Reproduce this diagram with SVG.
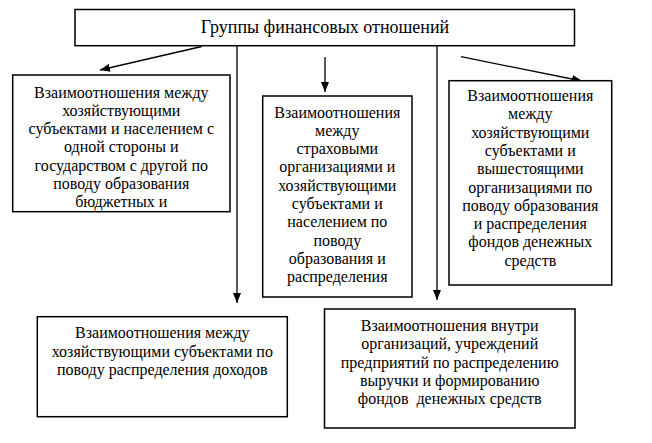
<svg xmlns="http://www.w3.org/2000/svg" width="652" height="443" viewBox="0 0 652 443" font-family="Liberation Serif, Times New Roman, serif">
<style>
.box{fill:#fff;stroke:#000;stroke-width:1.5}
text{font-size:16px;fill:#000;text-anchor:middle}
.title{font-size:18px}
.ln{stroke:#000;stroke-width:1.3;fill:none}
</style>
<defs>
<marker id="ah" viewBox="0 0 10 8" refX="10" refY="4" markerWidth="10" markerHeight="8" markerUnits="userSpaceOnUse" orient="auto">
<path d="M0,0 L10,4 L0,8 Z" fill="#000"/>
</marker>
</defs>
<rect width="652" height="443" fill="#fff"/>
<g id="connectors">
<line class="ln" x1="201.7" y1="46.5" x2="100" y2="70" marker-end="url(#ah)"/>
<line class="ln" x1="325" y1="57" x2="325" y2="92" marker-end="url(#ah)"/>
<line class="ln" x1="461" y1="56.7" x2="582" y2="81" marker-end="url(#ah)"/>
<line class="ln" x1="237" y1="45.7" x2="237" y2="303" marker-end="url(#ah)"/>
<line class="ln" x1="437" y1="45.7" x2="437" y2="300" marker-end="url(#ah)"/>
</g>
<g id="root" font-family="Liberation Serif, serif">
<rect class="box" x="75" y="9.5" width="499.5" height="36.2"/>
<text class="title" x="325" y="33">Группы финансовых отношений</text>
</g>
<g id="n1" font-family="Liberation Serif, serif">
<rect class="box" x="12.7" y="75" width="217.3" height="136.7"/>
<text x="121.3" y="97.5">Взаимоотношения между</text>
<text x="121.3" y="115.8">хозяйствующими</text>
<text x="121.3" y="134.1">субъектами и населением с</text>
<text x="121.3" y="152.4">одной стороны и</text>
<text x="121.3" y="170.7">государством с другой по</text>
<text x="121.3" y="189">поводу образования</text>
<text x="121.3" y="207.3">бюджетных и</text>
</g>
<g id="n2" font-family="Liberation Serif, serif">
<rect class="box" x="262.7" y="96" width="149.3" height="201"/>
<text x="337.3" y="117.5">Взаимоотношения</text>
<text x="337.3" y="135.8">между</text>
<text x="337.3" y="154.1">страховыми</text>
<text x="337.3" y="172.4">организациями и</text>
<text x="337.3" y="190.7">хозяйствующими</text>
<text x="337.3" y="209">субъектами и</text>
<text x="337.3" y="227.3">населением по</text>
<text x="337.3" y="245.6">поводу</text>
<text x="337.3" y="263.9">образования и</text>
<text x="337.3" y="282.2">распределения</text>
</g>
<g id="n3" font-family="Liberation Serif, serif">
<rect class="box" x="449" y="80.7" width="162.7" height="204.3"/>
<text x="530.3" y="101">Взаимоотношения</text>
<text x="530.3" y="119.3">между</text>
<text x="530.3" y="137.6">хозяйствующими</text>
<text x="530.3" y="155.9">субъектами и</text>
<text x="530.3" y="174.2">вышестоящими</text>
<text x="530.3" y="192.5">организациями по</text>
<text x="530.3" y="210.8">поводу образования</text>
<text x="530.3" y="229.1">и распределения</text>
<text x="530.3" y="247.4">фондов денежных</text>
<text x="530.3" y="265.7">средств</text>
</g>
<g id="n4" font-family="Liberation Serif, serif">
<rect class="box" x="37.3" y="316.7" width="250" height="100"/>
<text x="162.3" y="338">Взаимоотношения между</text>
<text x="162.3" y="356.5">хозяйствующими субъектами по</text>
<text x="162.3" y="375">поводу распределения доходов</text>
</g>
<g id="n5" font-family="Liberation Serif, serif">
<rect class="box" x="324.5" y="309" width="250.5" height="119"/>
<text x="449.7" y="331">Взаимоотношения внутри</text>
<text x="449.7" y="349.3">организаций, учреждений</text>
<text x="449.7" y="367.6">предприятий по распределению</text>
<text x="449.7" y="385.9">выручки и формированию</text>
<text x="449.7" y="404.2" xml:space="preserve">фондов  денежных средств</text>
</g>
</svg>
